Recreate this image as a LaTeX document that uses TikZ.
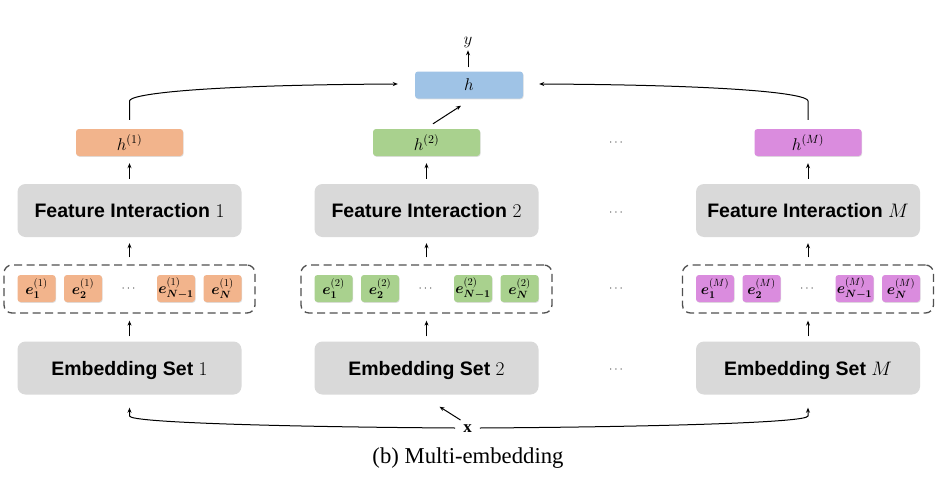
\RequirePackage{fix-cm}
\documentclass[tikz,border=0pt]{standalone}
\usepackage{amsmath}
\usepackage{fontspec}
\setmainfont{Liberation Serif}
\setsansfont{Liberation Sans}
\usetikzlibrary{arrows.meta,calc,shadows}
\definecolor{orng}{HTML}{F2B48C}
\definecolor{grn}{HTML}{A9D18E}
\definecolor{blu}{HTML}{9FC3E6}
\definecolor{mag}{HTML}{DA8CDE}
\definecolor{gry}{HTML}{D9D9D9}
\definecolor{dline}{HTML}{505050}
\begin{document}
\begin{tikzpicture}[x=1pt,y=-1pt,
  bigbox/.style={fill=gry,rounded corners=8pt,minimum width=224pt,minimum height=53pt,
    inner sep=0pt,text height=14pt,text depth=0pt,font=\sffamily\bfseries\fontsize{19.5}{22}\selectfont},
  hbox/.style={rounded corners=3pt,minimum width=107pt,minimum height=27pt,inner sep=0pt,
    font=\fontsize{17}{19}\selectfont,drop shadow={shadow xshift=0.6pt,shadow yshift=-0.8pt,opacity=0.25}},
  ebox/.style={rounded corners=3pt,minimum width=38pt,minimum height=27pt,inner sep=0pt,
    font=\fontsize{15}{17}\selectfont,drop shadow={shadow xshift=0.6pt,shadow yshift=-0.8pt,opacity=0.25}},
  dbox/.style={draw=dline,line width=1.3pt,dash pattern=on 8pt off 4.5pt,rounded corners=8pt,
    minimum width=251pt,minimum height=48pt,inner sep=0pt},
  dotsnode/.style={text=black!75,font=\fontsize{12}{14}\selectfont,inner sep=0pt},
  arr/.style={line width=1pt,-{Stealth[length=5pt,width=4pt]}},
  ]
\useasboundingbox (0,0) rectangle (948,482);
\fill[white] (0,0) rectangle (948,482);

\foreach \c/\cx/\col in {1/129.5/orng, 2/426.5/grn, M/808/mag}{
  \node[bigbox] (ES\c) at (\cx,368) {Embedding Set $\c$};
  \node[bigbox] (FI\c) at (\cx,210.5) {Feature Interaction $\c$};
  \node[hbox,fill=\col] (h\c) at (\cx,142.5) {$h^{(\c)}$};
  \node[dbox] (d\c) at (\cx,289) {};
  \node[ebox,fill=\col] (e\c a) at (\cx-93,288.5) {$\boldsymbol{e}^{(\c)}_{\boldsymbol{1}}$};
  \node[ebox,fill=\col] (e\c b) at (\cx-46.5,288.5) {$\boldsymbol{e}^{(\c)}_{\boldsymbol{2}}$};
  \node[dotsnode] (e\c d) at (\cx,288.5) {$\cdots$};
  \node[ebox,fill=\col] (e\c c) at (\cx+46.5,288.5) {$\boldsymbol{e}^{(\c)}_{\boldsymbol{N-1}}$};
  \node[ebox,fill=\col] (e\c e) at (\cx+93,288.5) {$\boldsymbol{e}^{(\c)}_{\boldsymbol{N}}$};
  \draw[arr,shorten <=5pt,shorten >=7pt] (ES\c.north) -- (d\c.south);
  \draw[arr,shorten <=7pt,shorten >=6pt] (d\c.north) -- (FI\c.south);
  \draw[arr,shorten <=5pt,shorten >=7pt] (FI\c.north) -- (h\c.south);
}

% middle dots column
\node[dotsnode] (m1) at (617,143) {$\cdots$};
\node[dotsnode] (m2) at (617,213) {$\cdots$};
\node[dotsnode] (m3) at (617,289) {$\cdots$};
\node[dotsnode] (m4) at (617,370) {$\cdots$};

% top
\node[hbox,fill=blu,minimum width=108pt] (h) at (469,85) {$h$};
\node[font=\fontsize{17}{19}\selectfont,inner sep=0pt] (y) at (468,42) {$y$};
\draw[arr] ($(h.north)+(-1,-4)$) -- ($(h.north)+(-1,-21)$);
\draw[arr] ($(h1.north)+(0,-9)$) -- (129.5,101) .. controls (129.5,94) and (200,85) .. ($(h.west)+(-17,-1)$);
\draw[arr] ($(hM.north)+(0,-9)$) -- (808,101) .. controls (808,94) and (740,85) .. ($(h.east)+(16,-1)$);
\draw[arr] ($(h2.north)+(6.5,-5)$) -- ($(h.south)+(-8,7)$);

% bottom
\node[font=\bfseries\fontsize{17}{19}\selectfont,inner sep=0pt] (x) at (467.5,429) {x};
\draw[arr] ($(x.west)+(-8,-1)$) .. controls (300,427) and (129.5,423) .. (129.5,416) -- ($(ES1.south)+(0,13)$);
\draw[arr] ($(x.east)+(8,-1)$) .. controls (640,427) and (808,423) .. (808,416) -- ($(ESM.south)+(0,13)$);
\draw[arr] ($(x)+(-7,-9)$) -- ($(ES2.south)+(13,12)$);

\node[anchor=base,font=\fontsize{22.7}{26}\selectfont,inner sep=0pt] (cap) at (468,463) {(b) Multi-embedding};
\end{tikzpicture}
\end{document}
